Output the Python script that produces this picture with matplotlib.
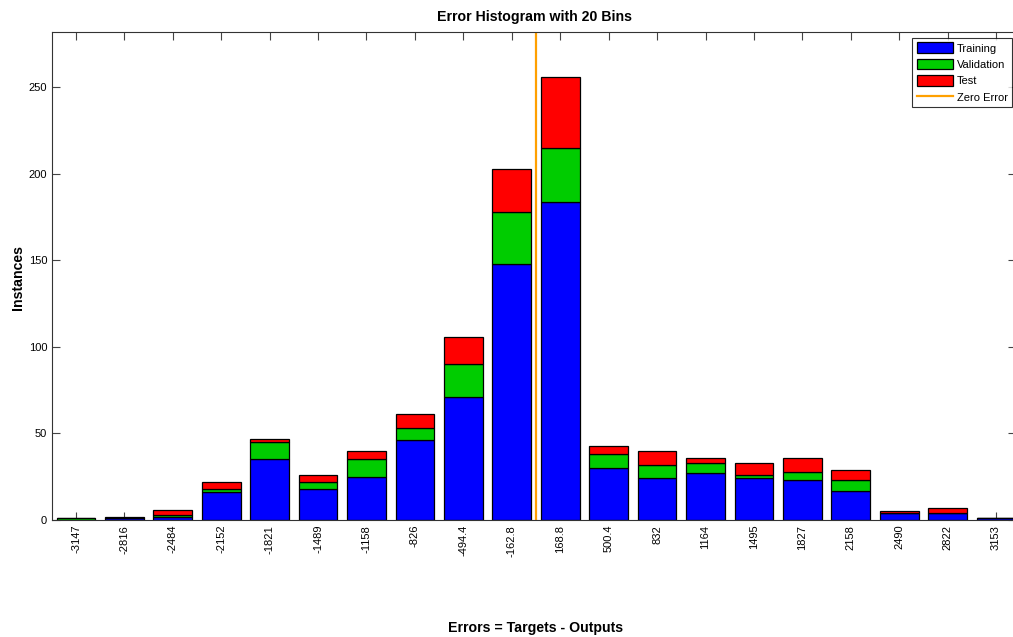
import numpy as np
import matplotlib
matplotlib.use('Agg')
import matplotlib.pyplot as plt

# bin centres (tick labels as printed) and counts per bin
centers = [-3147, -2816, -2484, -2152, -1821, -1489, -1158, -826, -494.4, -162.8,
           168.8, 500.4, 832, 1164, 1495, 1827, 2158, 2490, 2822, 3153]
labels = ['-3147', '-2816', '-2484', '-2152', '-1821', '-1489', '-1158', '-826', '-494.4', '-162.8',
          '168.8', '500.4', '832', '1164', '1495', '1827', '2158', '2490', '2822', '3153']
training = [0, 1, 2, 16, 35, 18, 25, 46, 71, 148, 184, 30, 24, 27, 24, 23, 17, 4, 4, 1]
validation = [1, 0, 1, 2, 10, 4, 10, 7, 19, 30, 31, 8, 8, 6, 2, 5, 6, 0, 0, 0]
test = [0, 1, 3, 4, 2, 4, 5, 8, 16, 25, 41, 5, 8, 3, 7, 8, 6, 1, 3, 0]
zero_error = 0

plt.rcParams['font.family'] = ['Liberation Sans', 'DejaVu Sans']

x = np.array(centers, dtype=float)
tr = np.array(training)
va = np.array(validation)
te = np.array(test)
step = (x[-1] - x[0]) / (len(x) - 1)
w = 0.8 * step

fig = plt.figure(figsize=(10.13, 6.37), dpi=100)
# right edge sits just past the picture, like the cropped original
ax = fig.add_axes([52/1013, 117/637, 964/1013, 488/637])
ax.set_axisbelow(True)

b1 = ax.bar(x, tr, width=w, color='#0000ff', edgecolor='black', linewidth=0.9)
b2 = ax.bar(x, va, width=w, bottom=tr, color='#00cc00', edgecolor='black', linewidth=0.9)
b3 = ax.bar(x, te, width=w, bottom=tr + va, color='#ff0000', edgecolor='black', linewidth=0.9)
zl = ax.axvline(zero_error, color='#ffa000', linewidth=1.6)

ax.set_xlim(x[0] - 24/48.4*step, x[-1] + 20/48.4*step)
ax.set_ylim(0, 282)
ax.set_xticks(x)
ax.set_xticklabels(labels, rotation=90, fontsize=8)
ax.set_yticks([0, 50, 100, 150, 200, 250])
ax.tick_params(axis='y', labelsize=8)
ax.tick_params(direction='in', top=True, right=True, length=6, color='#444444')
for s in ax.spines.values():
    s.set_color('#333333')

fig.text(534/1013, 1 - 17/637, 'Error Histogram with 20 Bins', fontsize=10.2,
         fontweight='bold', ha='center', va='center')
fig.text(18/1013, 1 - 277/637, 'Instances', fontsize=10.2, fontweight='bold',
         rotation=90, ha='center', va='center')
fig.text(536/1013, 1 - 628/637, 'Errors = Targets - Outputs', fontsize=10.2,
         fontweight='bold', ha='center', va='center')

leg = ax.legend([b1, b2, b3, zl], ['Training', 'Validation', 'Test', 'Zero Error'],
                loc='upper right', fontsize=8, frameon=True, fancybox=False,
                edgecolor='black', borderaxespad=0, handlelength=3.3, handleheight=1.1,
                handletextpad=0.3, labelspacing=0.47, borderpad=0.4,
                bbox_to_anchor=(1012/1013, 1 - 38/637), bbox_transform=fig.transFigure)
leg.get_frame().set_linewidth(0.8)

fig.savefig('out.png', dpi=100)
